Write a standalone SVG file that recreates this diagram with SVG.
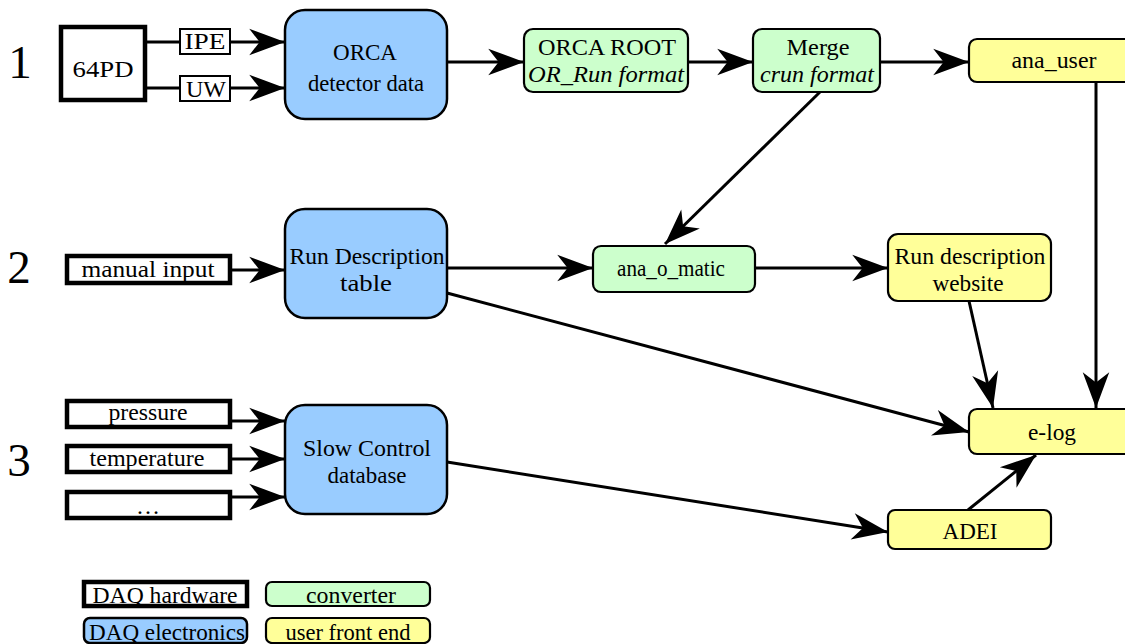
<svg xmlns="http://www.w3.org/2000/svg" width="1125" height="644" viewBox="0 0 1125 644">
  <style>
    text { font-family: "Liberation Serif", "Times New Roman", serif; font-size: 24px; fill: #000; text-anchor: middle; }
    .num { font-size: 47px; }
    .it { font-style: italic; }
    .hw { fill: #fff; stroke: #000; stroke-width: 4.5; }
    .lbl { fill: #fff; stroke: #000; stroke-width: 2; }
    .daq { fill: #99ccff; stroke: #000; stroke-width: 2.5; }
    .conv { fill: #ccffcc; stroke: #000; stroke-width: 2.2; }
    .user { fill: #ffff99; stroke: #000; stroke-width: 2.2; }
    .wire { fill: none; stroke: #000; stroke-width: 3; }
    .arr { fill: none; stroke: #000; stroke-width: 3; marker-end: url(#head); }
  </style>
  <defs>
    <marker id="head" markerUnits="userSpaceOnUse" markerWidth="40" markerHeight="30" viewBox="-32 -13 34 26" refX="0" refY="0" orient="auto">
      <path d="M0,0 L-31,-11.5 L-22,0 L-31,11.5 Z" fill="#000"/>
    </marker>
  </defs>

  <!-- row numbers -->
  <text class="num" x="20" y="78">1</text>
  <text class="num" x="19" y="283">2</text>
  <text class="num" x="19" y="476">3</text>

  <!-- connectors -->
  <g id="connectors">
    <path class="wire" d="M145,42 H180"/>
    <path class="arr" d="M230,42 H285"/>
    <path class="wire" d="M145,88 H180"/>
    <path class="arr" d="M230,88 H285"/>
    <path class="arr" d="M447,62 H524"/>
    <path class="arr" d="M688,62 H753"/>
    <path class="arr" d="M880,62 H969"/>
    <path class="arr" d="M820,92 L665,244"/>
    <path class="arr" d="M1096,82 V408"/>
    <path class="arr" d="M230,270 H285"/>
    <path class="arr" d="M447,268 H593"/>
    <path class="arr" d="M755,268 H888"/>
    <path class="arr" d="M969,301 L993,408"/>
    <path class="arr" d="M447,293 L969,432"/>
    <path class="arr" d="M230,421 H285"/>
    <path class="arr" d="M230,459 H285"/>
    <path class="arr" d="M230,497 H285"/>
    <path class="arr" d="M447,462 L888,532"/>
    <path class="arr" d="M968,510 L1036,455"/>
  </g>

  <!-- row 1 -->
  <g id="n64pd">
    <rect class="hw" x="61" y="27" width="84" height="73"/>
    <text x="103" y="77" font-size="25" textLength="61" lengthAdjust="spacingAndGlyphs">64PD</text>
  </g>
  <g id="ipe">
    <rect class="lbl" x="180" y="29" width="50" height="25"/>
    <text x="205" y="49" font-size="21" textLength="41" lengthAdjust="spacingAndGlyphs">IPE</text>
  </g>
  <g id="uw">
    <rect class="lbl" x="180" y="76" width="50" height="25"/>
    <text x="206" y="97" font-size="21" textLength="40" lengthAdjust="spacingAndGlyphs">UW</text>
  </g>
  <g id="orca">
    <rect class="daq" x="285" y="10" width="162" height="109" rx="20"/>
    <text x="365" y="60" textLength="64" lengthAdjust="spacingAndGlyphs">ORCA</text>
    <text x="366" y="91" textLength="116" lengthAdjust="spacingAndGlyphs">detector data</text>
  </g>
  <g id="orcaroot">
    <rect class="conv" x="524" y="29" width="164" height="63" rx="9"/>
    <text x="607" y="55" textLength="138" lengthAdjust="spacingAndGlyphs">ORCA ROOT</text>
    <text class="it" x="606" y="82" textLength="156" lengthAdjust="spacingAndGlyphs">OR_Run format</text>
  </g>
  <g id="merge">
    <rect class="conv" x="753" y="29" width="127" height="63" rx="9"/>
    <text x="818" y="55" textLength="63" lengthAdjust="spacingAndGlyphs">Merge</text>
    <text class="it" x="817" y="82" textLength="114" lengthAdjust="spacingAndGlyphs">crun format</text>
  </g>
  <g id="anauser">
    <rect class="user" x="969" y="39" width="170" height="43" rx="8"/>
    <text x="1054" y="68" textLength="85" lengthAdjust="spacingAndGlyphs">ana_user</text>
  </g>

  <!-- row 2 -->
  <g id="manual">
    <rect class="hw" x="67" y="256" width="163" height="27"/>
    <text x="148" y="277" font-size="26" textLength="133" lengthAdjust="spacingAndGlyphs">manual input</text>
  </g>
  <g id="rundesc">
    <rect class="daq" x="285" y="209" width="162" height="109" rx="20"/>
    <text x="367" y="264" textLength="155" lengthAdjust="spacingAndGlyphs">Run Description</text>
    <text x="366" y="291" textLength="52" lengthAdjust="spacingAndGlyphs">table</text>
  </g>
  <g id="anaomatic">
    <rect class="conv" x="593" y="246" width="162" height="46" rx="8"/>
    <text x="671" y="276" textLength="108" lengthAdjust="spacingAndGlyphs">ana_o_matic</text>
  </g>
  <g id="website">
    <rect class="user" x="888" y="234" width="163" height="67" rx="10"/>
    <text x="970" y="264" textLength="151" lengthAdjust="spacingAndGlyphs">Run description</text>
    <text x="968" y="291" textLength="71" lengthAdjust="spacingAndGlyphs">website</text>
  </g>

  <!-- row 3 -->
  <g id="pressure">
    <rect class="hw" x="67" y="401" width="163" height="26"/>
    <text x="148" y="420" textLength="79" lengthAdjust="spacingAndGlyphs">pressure</text>
  </g>
  <g id="temperature">
    <rect class="hw" x="67" y="446" width="163" height="26"/>
    <text x="147" y="466" textLength="115" lengthAdjust="spacingAndGlyphs">temperature</text>
  </g>
  <g id="more">
    <rect class="hw" x="67" y="492" width="163" height="26"/>
    <text x="148" y="514">…</text>
  </g>
  <g id="slowcontrol">
    <rect class="daq" x="285" y="405" width="162" height="109" rx="20"/>
    <text x="367" y="456" textLength="128" lengthAdjust="spacingAndGlyphs">Slow Control</text>
    <text x="367" y="483" textLength="79" lengthAdjust="spacingAndGlyphs">database</text>
  </g>
  <g id="elog">
    <rect class="user" x="969" y="409" width="170" height="45" rx="8"/>
    <text x="1052" y="440" textLength="48" lengthAdjust="spacingAndGlyphs">e-log</text>
  </g>
  <g id="adei">
    <rect class="user" x="888" y="510" width="163" height="39" rx="7"/>
    <text x="970" y="539" textLength="55" lengthAdjust="spacingAndGlyphs">ADEI</text>
  </g>

  <!-- legend -->
  <g id="legend-hw">
    <rect class="hw" x="84" y="582" width="163" height="24"/>
    <text x="165" y="603" font-size="23" textLength="145" lengthAdjust="spacingAndGlyphs">DAQ hardware</text>
  </g>
  <g id="legend-conv">
    <rect class="conv" x="266" y="582" width="164" height="24" rx="6"/>
    <text x="351" y="603" font-size="23" textLength="90" lengthAdjust="spacingAndGlyphs">converter</text>
  </g>
  <g id="legend-daq">
    <rect class="daq" x="84" y="618" width="163" height="25" rx="6"/>
    <text x="167" y="640" font-size="23" textLength="156" lengthAdjust="spacingAndGlyphs">DAQ electronics</text>
  </g>
  <g id="legend-user">
    <rect class="user" x="266" y="618" width="164" height="25" rx="6"/>
    <text x="348" y="640" font-size="23" textLength="125" lengthAdjust="spacingAndGlyphs">user front end</text>
  </g>
</svg>
